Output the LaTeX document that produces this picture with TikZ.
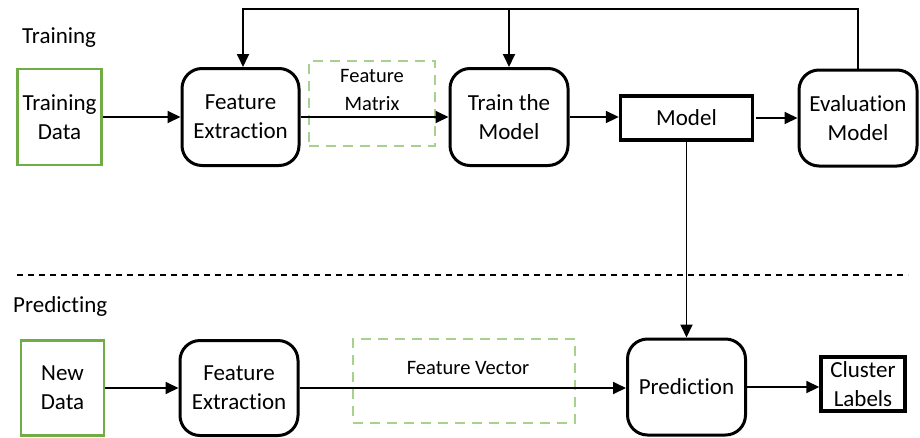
\documentclass[tikz,border=0pt]{standalone}
\usepackage{fontspec}
\setmainfont[Ligatures={NoCommon}]{Carlito}
\usetikzlibrary{arrows.meta}
\definecolor{grn}{HTML}{70AD47}
\definecolor{lgrn}{HTML}{A9D18E}
\tikzset{
  base/.style={inner sep=0pt, align=center, font=\fontsize{23}{29}\selectfont},
  rbox/.style={base, draw, line width=3pt, rounded corners=20pt},
  gbox/.style={base, draw=grn, line width=2.8pt},
  kbox/.style={base, draw, line width=3.4pt},
  dbox/.style={draw=lgrn, line width=2.4pt, dash pattern=on 10pt off 7pt, inner sep=0pt},
  small/.style={inner sep=0pt, align=center, font=\fontsize{20.5}{28}\selectfont},
  conn/.style={line width=1.8pt},
  arr/.style={conn, -{Triangle[length=13pt,width=12pt]}},
  lbl/.style={inner sep=0pt, anchor=base west, font=\fontsize{23}{29}\selectfont}
}
\begin{document}
\begin{tikzpicture}[x=1pt,y=-1pt]
\useasboundingbox (0,0) rectangle (920,437);
% labels
\node[lbl] (ltrain) at (22,43) {Training};
\node[lbl] (lpred) at (13,312) {Predicting};
% training row
\node[gbox, minimum width=84pt, minimum height=96pt] (td) at (59.5,117) {Training\\Data};
\node[rbox, minimum width=117pt, minimum height=97pt] (fe1) at (240.5,117) {Feature\\Extraction};
\node[dbox, minimum width=126pt, minimum height=85pt] (fm) at (372,103.5) {};
\node[small] (fmt) at (372,90) {Feature\\Matrix};
\node[rbox, minimum width=118pt, minimum height=97pt] (tm) at (509,117) {Train the\\Model};
\node[kbox, minimum width=132pt, minimum height=44pt] (model) at (686.5,118) {Model};
\node[rbox, minimum width=118pt, minimum height=96pt] (ev) at (858,118) {Evaluation\\Model};
% predicting row
\node[gbox, minimum width=83pt, minimum height=95pt] (nd) at (62.5,388) {New\\Data};
\node[rbox, minimum width=118pt, minimum height=95pt] (fe2) at (239,388) {Feature\\Extraction};
\node[dbox, minimum width=222pt, minimum height=84pt] (fv) at (464,381) {};
\node[small] (fvt) at (468,368) {Feature Vector};
\node[rbox, minimum width=118pt, minimum height=96pt] (pr) at (686.5,387) {Prediction};
\node[kbox, minimum width=84pt, minimum height=54pt] (cl) at (863,384) {Cluster\\Labels};
% divider
\coordinate (dl) at (17,275);
\coordinate (dr) at (908,275);
\draw[line width=1.6pt, dash pattern=on 6pt off 5pt] (dl) -- (dr);
% connectors
\draw[arr] (td.east) -- (fe1.west);
\draw[arr] (fe1.east) -- (tm.west);
\draw[arr] (tm.east) -- (tm.east -| model.west);
\draw[arr] ([xshift=2pt]model.east) -- (model.east -| ev.west);
\coordinate (fbL) at (243,9);
\draw[arr] (ev.north) |- (fbL) -- (fe1.north -| fbL);
\draw[arr] (tm.north |- fbL) -- (tm.north);
\draw[arr] (model.south) -- (pr.north);
\draw[arr] (nd.east) -- (fe2.west);
\draw[arr] (fe2.east) -- (fe2.east -| pr.west);
\draw[arr] (pr.east) -- (pr.east -| cl.west);
\end{tikzpicture}
\end{document}
